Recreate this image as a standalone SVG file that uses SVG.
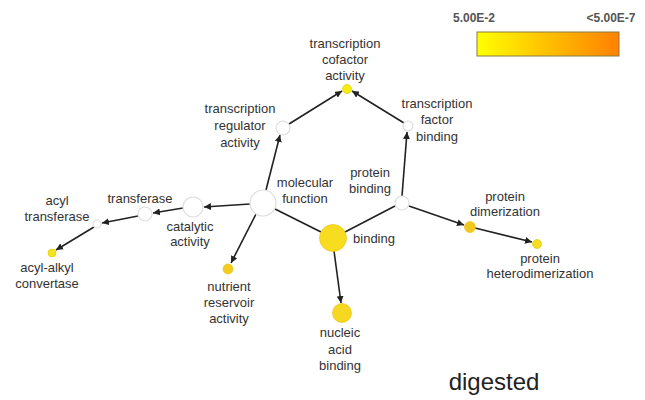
<svg xmlns="http://www.w3.org/2000/svg" width="645" height="400" viewBox="0 0 645 400">
<defs>
<linearGradient id="lg" x1="0" y1="0" x2="1" y2="0">
<stop offset="0" stop-color="#ffff00"/>
<stop offset="1" stop-color="#ff8000"/>
</linearGradient>
<marker id="ah" viewBox="0 0 10 10" refX="10" refY="5" markerWidth="7" markerHeight="7" markerUnits="userSpaceOnUse" orient="auto">
<path d="M0,0 L10,5 L0,10 z" fill="#222"/>
</marker>
<style>
text{font-family:"Liberation Sans",Arial,sans-serif;font-size:13px;fill:#333;text-anchor:middle}
.e{stroke:#222;stroke-width:1.6;fill:none}
.a{marker-end:url(#ah)}
.w{fill:#fff;stroke:#ddd;stroke-width:1.2}
.y{stroke:#e8c000;stroke-width:0.6}
</style>
</defs>
<rect width="645" height="400" fill="#fff"/>
<g id="legend">
<text x="474" y="22" style="font-size:12px;fill:#555;font-weight:bold">5.00E-2</text>
<text x="611" y="22" style="font-size:12px;fill:#555;font-weight:bold">&lt;5.00E-7</text>
<rect x="477" y="32" width="142" height="24" fill="url(#lg)" stroke="#8a7a40" stroke-width="1"/>
</g>
<g id="connectors">
<line class="e a" x1="266" y1="190" x2="280" y2="135"/>
<line class="e a" x1="289" y1="124" x2="342" y2="91"/>
<line class="e a" x1="404" y1="123" x2="352" y2="91"/>
<line class="e a" x1="402" y1="196" x2="407" y2="132"/>
<line class="e" x1="345" y1="232" x2="395" y2="206"/>
<line class="e" x1="275" y1="209" x2="321" y2="232"/>
<line class="e a" x1="334" y1="251" x2="341" y2="303"/>
<line class="e a" x1="409" y1="206" x2="464" y2="225"/>
<line class="e a" x1="475" y1="228" x2="532" y2="242"/>
<line class="e a" x1="250" y1="204" x2="204" y2="207"/>
<line class="e a" x1="183" y1="208" x2="153" y2="213"/>
<line class="e a" x1="138" y1="216" x2="102" y2="223"/>
<line class="e a" x1="94" y1="227" x2="56" y2="250"/>
<line class="e a" x1="256" y1="214" x2="231" y2="263"/>
</g>
<g id="n-molecular-function"><circle class="w" cx="263" cy="203" r="13"/><text x="305" y="187">molecular</text><text x="305" y="203">function</text></g>
<g id="n-binding"><circle class="y" cx="333" cy="238" r="13.5" fill="#f7dc1f"/><text x="374" y="243">binding</text></g>
<g id="n-nucleic"><circle class="y" cx="342" cy="313" r="9.5" fill="#f6d822"/><text x="340" y="337">nucleic</text><text x="340" y="354">acid</text><text x="340" y="370">binding</text></g>
<g id="n-protein-binding"><circle class="w" cx="402" cy="203" r="7"/><text x="370" y="177">protein</text><text x="370" y="193">binding</text></g>
<g id="n-tf-binding"><circle class="w" cx="408" cy="126" r="5"/><text x="437" y="108">transcription</text><text x="437" y="124">factor</text><text x="437" y="141">binding</text></g>
<g id="n-cofactor"><circle class="y" cx="347" cy="89" r="4.5" fill="#f2ee10"/><text x="345" y="48">transcription</text><text x="345" y="64">cofactor</text><text x="345" y="80">activity</text></g>
<g id="n-regulator"><circle class="w" cx="283" cy="128" r="7"/><text x="240" y="113">transcription</text><text x="240" y="130">regulator</text><text x="240" y="147">activity</text></g>
<g id="n-catalytic"><circle class="w" cx="193" cy="207" r="10"/><text x="190" y="231">catalytic</text><text x="190" y="246">activity</text></g>
<g id="n-transferase"><circle class="w" cx="145" cy="214" r="7"/><text x="140" y="203">transferase</text></g>
<g id="n-acyl-transferase"><circle class="w" cx="97" cy="224" r="4"/><text x="57" y="205">acyl</text><text x="57" y="221">transferase</text></g>
<g id="n-acyl-alkyl"><circle class="y" cx="52" cy="253" r="4" fill="#f5e61c"/><text x="47" y="272">acyl-alkyl</text><text x="47" y="288">convertase</text></g>
<g id="n-nutrient"><circle class="y" cx="228" cy="269" r="5" fill="#f3cc20"/><text x="229" y="291">nutrient</text><text x="229" y="307">reservoir</text><text x="229" y="323">activity</text></g>
<g id="n-dimerization"><circle class="y" cx="470" cy="227" r="5.5" fill="#f2c820"/><text x="505" y="201">protein</text><text x="505" y="216">dimerization</text></g>
<g id="n-heterodimerization"><circle class="y" cx="537" cy="244" r="4.5" fill="#f4de20"/><text x="540" y="263">protein</text><text x="540" y="278">heterodimerization</text></g>
<text x="494" y="390" style="font-size:24px;fill:#222">digested</text>
</svg>
